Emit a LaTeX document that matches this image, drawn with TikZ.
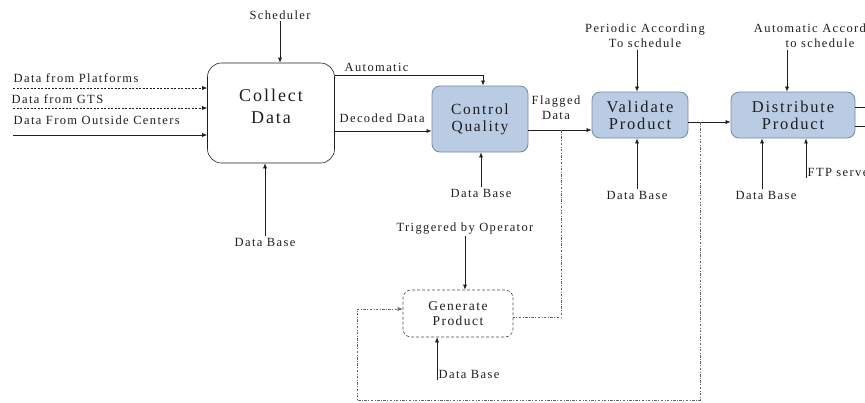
\documentclass[tikz,border=0pt]{standalone}
\usepackage{fontspec}
\setmainfont{Liberation Serif}
\newfontfamily\lblfont{Liberation Serif}[LetterSpace=11]
\usetikzlibrary{arrows.meta}
\usetikzlibrary{positioning}
\definecolor{procfill}{RGB}{186,204,228}
\definecolor{procline}{RGB}{118,136,164}
\definecolor{inkgray}{RGB}{30,30,30}

\begin{document}
\begin{tikzpicture}[x=1pt,y=-1pt,
  lbl/.style={font=\lblfont\fontsize{12.5}{14}\selectfont,text=inkgray,align=center,inner sep=1.5pt},
  proc/.style={draw=procline,fill=procfill,rounded corners=8pt,thick,align=center,text=inkgray,font=\lblfont\fontsize{15.5}{17}\selectfont},
  flow/.style={draw=inkgray,line width=0.6pt,-{Latex[length=5pt,width=4pt]}},
  feed/.style={flow,dash pattern=on 2pt off 1.5pt},
  loopline/.style={draw=black!60,line width=0.6pt,dash pattern=on 2.5pt off 1.5pt on 0.8pt off 1.5pt}]
\useasboundingbox (0,0) rectangle (865,402);

% process boxes
\node[draw=inkgray,line width=0.6pt,rounded corners=14pt,minimum width=127pt,minimum height=100pt,align=center,text=inkgray,font=\lblfont\fontsize{18}{22}\selectfont] (collect) at (271,113) {Collect\\Data\\[-8pt]};
\node[proc,minimum width=96pt,minimum height=66pt] (quality) at (480,119) {Control\\Quality};
\node[proc,minimum width=96pt,minimum height=46pt,font=\lblfont\fontsize{16.5}{17}\selectfont] (validate) at (640,115) {Validate\\Product};
\node[proc,minimum width=124pt,minimum height=46pt,font=\lblfont\fontsize{16.5}{17}\selectfont] (distribute) at (793,115) {Distribute\\Product};
\node[draw=black!70,line width=0.6pt,dash pattern=on 3pt off 2pt,rounded corners=8pt,minimum width=110pt,minimum height=47pt,align=center,text=inkgray,font=\lblfont\fontsize{13.5}{15}\selectfont] (generate) at (458,313.5) {Generate\\Product};

% labels
\node[lbl] (sched) at (280,15) {Scheduler};
\node[lbl] (dbA) at (265,242) {Data Base};
\node[lbl,anchor=west] (plat) at (12,78) {Data from Platforms};
\node[lbl,anchor=west] (gts) at (10,99) {Data from GTS};
\node[lbl,anchor=west] (outc) at (12,120) {Data From Outside Centers};
\node[lbl,anchor=west] (auto) at (343,67) {Automatic};
\node[lbl,anchor=west] (decoded) at (338,118) {Decoded Data};
\node[lbl] (dbB) at (481,193) {Data Base};
\node[lbl,font=\lblfont\fontsize{12.5}{15}\selectfont] (flag) at (556,108) {Flagged\\Data};
\node[lbl,font=\lblfont\fontsize{12.5}{15}\selectfont] (period) at (645,36) {Periodic According\\To schedule};
\node[lbl] (dbC) at (637,195) {Data Base};
\node[lbl,font=\lblfont\fontsize{12.5}{15}\selectfont] (autoacc) at (820,36) {Automatic According\\to schedule};
\node[lbl] (dbD) at (766,195) {Data Base};
\node[lbl,anchor=west] (ftp) at (806,172) {FTP server};
\node[lbl] (trig) at (465,229) {Triggered by Operator};
\node[lbl,anchor=west] (dbE) at (437,374) {Data Base};

\coordinate (platin) at (13,88);
\coordinate (gtsin) at (13,108);
\coordinate (outcin) at (13,135);
\coordinate (fsplit) at (561,130);
\coordinate (vsplit) at (700,122);
\coordinate (lowleft) at (357,400);

% inputs to Collect Data
\draw[feed] (platin) -- (platin -| collect.west);
\draw[feed] (gtsin) -- (gtsin -| collect.west);
\draw[flow] (outcin) -- (outcin -| collect.west);
\draw[flow] (sched) -- (sched |- collect.north);
\draw[flow] (dbA) -- (dbA |- collect.south);

% main chain
\draw[flow] ([yshift=-13pt]collect.north east) -| ([xshift=3pt]quality.north);
\draw[flow] ([yshift=-18pt]collect.east) -- ([yshift=-18pt]collect.east -| quality.west);
\draw[flow] (dbB) -- (dbB |- quality.south);
\draw[flow] (fsplit -| quality.east) -- (fsplit -| validate.west);
\draw[flow] (period.south -| 637,0) -- (validate.north -| 637,0);
\draw[flow] (dbC) -- (dbC |- validate.south);
\draw[flow] (vsplit -| validate.east) -- (vsplit -| distribute.west);
\draw[flow] (autoacc.south -| 787,0) -- (distribute.north -| 787,0);
\draw[flow] ([xshift=-4pt]dbD.north) -- ([xshift=-4pt]dbD.north |- distribute.south);
\draw[flow,thick] (ftp.south west) -- (ftp.south west |- distribute.south);
\draw[inkgray,line width=0.6pt] ([yshift=8pt]distribute.east) -- +(20,0);
\draw[inkgray,line width=0.6pt] ([yshift=-11pt]distribute.east) -- +(20,0);

% operator loop
\draw[flow] (trig) -- (trig |- generate.north);
\draw[flow] (dbE.south west) -- (dbE.south west |- generate.south);
\draw[loopline] (fsplit) |- ([yshift=-3.5pt]generate.east);
\draw[loopline,-{Latex[length=5pt,width=4pt]}] (vsplit) |- (lowleft) |- ([yshift=4.5pt]generate.west);

\end{tikzpicture}
\end{document}
